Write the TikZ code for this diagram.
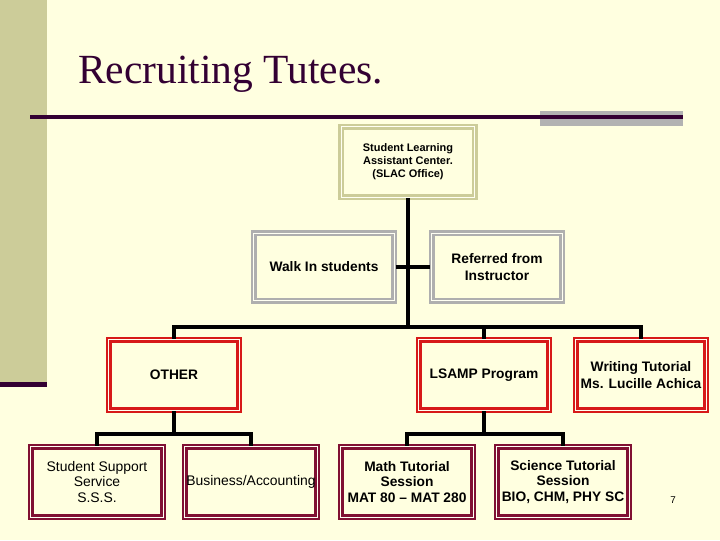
\documentclass[tikz,border=0pt]{standalone}
\usepackage{fontspec}
\setsansfont{Liberation Sans}
\newfontfamily\titlefont{Liberation Serif}
\usetikzlibrary{calc}

\definecolor{slidebg}{RGB}{255,255,224}
\definecolor{olivebar}{RGB}{204,204,153}
\definecolor{plum}{RGB}{51,0,51}
\definecolor{barGray}{RGB}{178,178,178}
\definecolor{boxOlive}{RGB}{204,204,153}
\definecolor{boxGray}{RGB}{175,175,175}
\definecolor{boxRed}{RGB}{215,25,25}
\definecolor{boxMaroon}{RGB}{128,16,51}

\tikzset{
  orgbox/.style={draw, line width=1.8pt, double=slidebg!40!white, double distance=0.6pt,
    fill=slidebg, inner sep=0pt, align=center, font=\sffamily\bfseries\fontsize{9.8}{12}\selectfont},
  topbox/.style={orgbox, draw=boxOlive, minimum width=95pt, minimum height=50pt,
    font=\sffamily\bfseries\fontsize{7.8}{9.2}\selectfont},
  greybox/.style={orgbox, draw=boxGray, minimum height=48pt},
  redbox/.style={orgbox, draw=boxRed, minimum width=93pt, minimum height=50pt},
  maroonbox/.style={orgbox, draw=boxMaroon, minimum width=94pt, minimum height=50pt},
  link/.style={line width=2.5pt}
}

\begin{document}
\begin{tikzpicture}[x=0.025cm, y=-0.025cm]
    % slide background
    \fill[slidebg] (0,0) rectangle (720,540);
    \useasboundingbox (0,0) rectangle (720,540);
    \fill[olivebar] (0,0) rectangle (47,382);
    \fill[plum] (0,382) rectangle (47,387);
    % title and rule
    \node[anchor=base west, inner sep=0pt, text=plum, font=\titlefont\fontsize{29.5}{34}\selectfont] (title) at (78,83) {Recruiting Tutees.};
    \fill[barGray] (540,111) rectangle (683,126);
    \draw[plum, line width=2.3pt] (30,117) -- (683,117);
    % boxes
    \node[topbox] (slac) at (408,162) {Student Learning\\Assistant Center.\\(SLAC Office)};
    \node[greybox, minimum width=100pt] (walk) at (324,267) {Walk In students};
    \node[greybox, minimum width=93pt] (ref) at (497,267) {Referred from\\Instructor};
    \node[redbox] (other) at (174,375) {OTHER};
    \node[redbox] (lsamp) at (484,375) {LSAMP Program};
    \node[redbox] (writing) at (641,375) {Writing Tutorial\\Ms. Lucille Achica};
    \node[maroonbox, font=\sffamily\fontsize{9.9}{11.3}\selectfont] (sss) at (97,482) {Student Support\\Service\\S.S.S.};
    \node[maroonbox, font=\sffamily\fontsize{9.9}{11.3}\selectfont] (bus) at (251,482) {Business/Accounting};
    \node[maroonbox, font=\sffamily\bfseries\fontsize{9.8}{11.3}\selectfont] (math) at (407,482) {Math Tutorial\\Session\\MAT 80 -- MAT 280};
    \node[maroonbox, font=\sffamily\bfseries\fontsize{9.8}{11.3}\selectfont] (sci) at (563,482) {Science Tutorial\\Session\\BIO, CHM, PHY SC};
    \node[font=\sffamily\fontsize{7}{8}\selectfont] (pagenum) at (673,500) {7};
    % connectors
    \coordinate (hub) at (408,327);
    \coordinate (otherhub) at (174,434);
    \coordinate (lsamphub) at (484,434);
    \draw[link] (slac.south) -- (hub);
    \draw[link] (walk.east) -- (ref.west);
    \draw[link] (other.north) |- (hub) -| (writing.north);
    \draw[link] (lsamp.north) -- (lsamp.north |- hub);
    \draw[link] (other.south) -- (otherhub);
    \draw[link] (sss.north) |- (otherhub) -| (bus.north);
    \draw[link] (lsamp.south) -- (lsamphub);
    \draw[link] (math.north) |- (lsamphub) -| (sci.north);
\end{tikzpicture}
\end{document}
